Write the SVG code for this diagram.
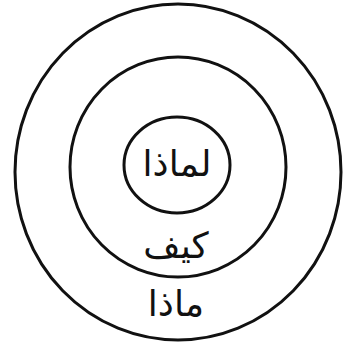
<svg xmlns="http://www.w3.org/2000/svg" width="346" height="347" viewBox="0 0 346 347">
<style>
.ring{fill:none;stroke:#111;stroke-width:3}
.lbl{font-family:"DejaVu Sans",sans-serif;fill:#111;text-anchor:middle}
</style>
<rect width="346" height="347" fill="#fff"/>
<g id="what">
<ellipse class="ring" cx="178" cy="172" rx="163" ry="168"/>
<text class="lbl" x="176" y="316" font-size="36" direction="rtl">ماذا</text>
</g>
<g id="how">
<ellipse class="ring" cx="178" cy="167" rx="108" ry="110"/>
<text class="lbl" x="176" y="258" font-size="36" direction="rtl">كيف</text>
</g>
<g id="why">
<ellipse class="ring" cx="177" cy="165" rx="53" ry="48"/>
<text class="lbl" x="177" y="176" font-size="36" direction="rtl">لماذا</text>
</g>
<g id="connectors"/>
</svg>
